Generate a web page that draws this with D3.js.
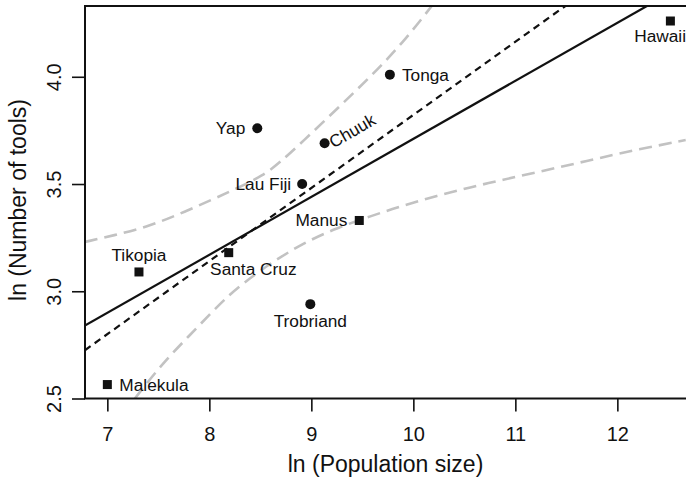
<!DOCTYPE html>
<html>
<head>
<meta charset="utf-8">
<script src="https://cdn.jsdelivr.net/npm/d3@7"></script>
<style>
  body { margin: 0; background: #fff; }
  svg { display: block; font-family: "Liberation Sans", Arial, Helvetica, sans-serif; }
</style>
</head>
<body>
<script>
// island data (log scale)
var islands  = ["Malekula", "Tikopia", "Santa Cruz", "Yap", "Lau Fiji", "Trobriand", "Chuuk", "Manus", "Tonga", "Hawaii"];
var logPop   = [7.00, 7.31, 8.19, 8.47, 8.91, 8.99, 9.13, 9.47, 9.77, 12.52];
var logTools = [2.565, 3.09, 3.18, 3.76, 3.50, 2.94, 3.69, 3.33, 4.01, 4.26];
var contact  = ["low", "low", "low", "high", "high", "high", "high", "low", "high", "low"];

// fitted lines
var solidX  = [6.78, 12.29];
var solidY  = [2.84, 4.33];
var dashedX = [6.78, 11.49];
var dashedY = [2.725, 4.33];

// gray interval curves
var upperX = [6.78, 7.06, 7.39, 7.71, 8.04, 8.27, 8.53, 8.69, 8.92, 9.25, 9.58, 9.90, 10.18];
var upperY = [3.23, 3.26, 3.30, 3.36, 3.43, 3.48, 3.54, 3.60, 3.70, 3.85, 4.00, 4.16, 4.33];
var lowerX = [7.27, 7.55, 7.88, 8.20, 8.47, 8.60, 8.92, 9.25, 9.58, 9.90, 10.23, 10.56, 10.88, 11.21, 11.54, 11.86, 12.19, 12.67];
var lowerY = [2.50, 2.67, 2.83, 2.99, 3.085, 3.13, 3.225, 3.295, 3.35, 3.40, 3.445, 3.485, 3.52, 3.555, 3.59, 3.625, 3.66, 3.705];

var xTicks = [7, 8, 9, 10, 11, 12];
var yTicks = [2.5, 3.0, 3.5, 4.0];
var xDomain = [6.781, 12.673];
var yDomain = [2.5, 4.33];

var width = 686, height = 478;
var m = { left: 85, right: 686, top: 6, bottom: 398.5 };
var ink = "#111";

var x = d3.scaleLinear().domain(xDomain).range([m.left, m.right]);
var y = d3.scaleLinear().domain(yDomain).range([m.bottom, m.top]);

var svg = d3.select("body").append("svg")
    .attr("width", width)
    .attr("height", height);

svg.append("clipPath").attr("id", "plotclip")
  .append("rect")
    .attr("x", m.left).attr("y", m.top)
    .attr("width", m.right - m.left).attr("height", m.bottom - m.top);

var plot = svg.append("g").attr("clip-path", "url(#plotclip)");

function pairs(xs, ys) {
    return xs.map(function(d, i) { return [d, ys[i]]; });
}

var line = d3.line()
    .x(function(d) { return x(d[0]); })
    .y(function(d) { return y(d[1]); });
var smooth = d3.line()
    .curve(d3.curveBasis)
    .x(function(d) { return x(d[0]); })
    .y(function(d) { return y(d[1]); });

// gray dashed band
[pairs(upperX, upperY), pairs(lowerX, lowerY)].forEach(function(p) {
    plot.append("path")
        .attr("d", smooth(p))
        .attr("fill", "none")
        .attr("stroke", "#c2c2c2")
        .attr("stroke-width", 2.6)
        .attr("stroke-dasharray", "13,7");
});

plot.append("path")
    .attr("d", line(pairs(dashedX, dashedY)))
    .attr("fill", "none")
    .attr("stroke", ink)
    .attr("stroke-width", 2.2)
    .attr("stroke-dasharray", "7,5");

plot.append("path")
    .attr("d", line(pairs(solidX, solidY)))
    .attr("fill", "none")
    .attr("stroke", ink)
    .attr("stroke-width", 2.2);

// points
islands.forEach(function(name, i) {
    var px = x(logPop[i]), py = y(logTools[i]);
    if (contact[i] === "high") {
        svg.append("circle")
            .attr("cx", px).attr("cy", py).attr("r", 5)
            .attr("fill", ink);
    } else {
        svg.append("rect")
            .attr("x", px - 4.5).attr("y", py - 4.5)
            .attr("width", 9).attr("height", 9)
            .attr("fill", ink);
    }
});

// label placement: dx, dy (baseline), anchor, rotation
var placement = {
    "Malekula":   [12, 6, "start", 0],
    "Tikopia":    [0, -10.6, "middle", 0],
    "Santa Cruz": [-18.6, 22, "start", 0],
    "Yap":        [-12, 6, "end", 0],
    "Lau Fiji":   [-11, 6, "end", 0],
    "Trobriand":  [0, 22.7, "middle", 0],
    "Chuuk":      [6, 6, "start", -30],
    "Manus":      [-12, 6, "end", 0],
    "Tonga":      [12, 6, "start", 0],
    "Hawaii":     [-36.2, 21, "start", 0]
};

islands.forEach(function(name, i) {
    var p = placement[name];
    var px = x(logPop[i]) + p[0], py = y(logTools[i]);
    var t = svg.append("text")
        .attr("font-size", 17.3)
        .attr("fill", ink)
        .attr("text-anchor", p[2])
        .text(name);
    if (p[3]) {
        t.attr("transform", "translate(" + px + "," + py + ") rotate(" + p[3] + ")")
            .attr("dy", p[1]);
    } else {
        t.attr("x", px).attr("y", py + p[1]);
    }
});

// box
svg.append("rect")
    .attr("x", m.left).attr("y", m.top)
    .attr("width", m.right - m.left + 10).attr("height", m.bottom - m.top)
    .attr("fill", "none")
    .attr("stroke", ink)
    .attr("stroke-width", 2);

// axes
var xAxis = d3.axisBottom(x).tickValues(xTicks).tickSize(13).tickSizeOuter(0).tickPadding(15.3)
    .tickFormat(d3.format("d"));
var gx = svg.append("g")
    .attr("transform", "translate(0," + m.bottom + ")")
    .call(xAxis)
    .attr("font-size", 20).attr("font-family", null);
gx.select(".domain").remove();
gx.selectAll("line").attr("stroke", ink).attr("stroke-width", 1.6);
gx.selectAll("text").attr("fill", ink);

var yAxis = d3.axisLeft(y).tickValues(yTicks).tickSize(13).tickSizeOuter(0)
    .tickFormat(d3.format(".1f"));
var gy = svg.append("g")
    .attr("transform", "translate(" + m.left + ",0)")
    .call(yAxis)
    .attr("font-size", 20).attr("font-family", null);
gy.select(".domain").remove();
gy.selectAll("line").attr("stroke", ink).attr("stroke-width", 1.6);
gy.selectAll("text")
    .attr("x", null).attr("dy", null)
    .attr("transform", "translate(-24,0) rotate(-90)")
    .attr("text-anchor", "middle")
    .attr("fill", ink);

// axis titles
svg.append("text")
    .attr("x", (m.left + m.right) / 2)
    .attr("y", 472)
    .attr("text-anchor", "middle")
    .attr("font-size", 23)
    .attr("fill", ink)
    .text("ln (Population size)");

svg.append("text")
    .attr("transform", "translate(26,200) rotate(-90)")
    .attr("text-anchor", "middle")
    .attr("font-size", 23)
    .attr("fill", ink)
    .text("ln (Number of tools)");
</script>
</body>
</html>
